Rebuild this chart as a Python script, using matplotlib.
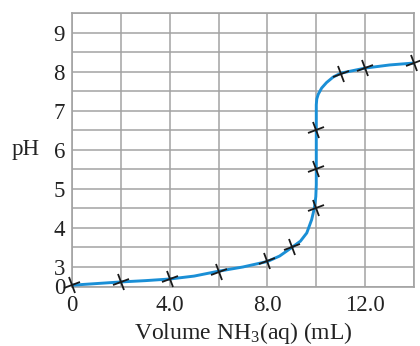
import numpy as np
import matplotlib
matplotlib.use("Agg")
import matplotlib.pyplot as plt
from matplotlib.markers import MarkerStyle
from matplotlib.transforms import Affine2D
import matplotlib.transforms as mtransforms

plt.rcParams['font.family'] = ['Liberation Serif', 'DejaVu Serif']
plt.rcParams['mathtext.fontset'] = 'custom'
plt.rcParams['mathtext.rm'] = 'Liberation Serif'
plt.rcParams['mathtext.it'] = 'Liberation Serif:italic'

# Curve (volume mL, pH)
curve_volume = [0, 1, 2, 3, 4, 5, 6, 7, 8, 8.5, 9, 9.35, 9.61, 9.81, 9.92, 9.98, 10.0,
                10.0, 10.0, 10.02, 10.08, 10.22, 10.42, 10.69, 11, 12, 13, 14]
curve_ph = [0.2, 0.45, 0.7, 0.9, 1.15, 1.6, 2.35, 3.0, 3.14, 3.28, 3.5, 3.66, 3.87, 4.21,
            4.5, 4.8, 5.1, 6.5, 7.15, 7.3, 7.42, 7.58, 7.72, 7.86, 7.96, 8.09, 8.17, 8.22]

# Measured points (crosses)
point_volume = [0, 2, 4, 6, 8, 9, 10, 10, 10, 11, 12, 14]
point_ph = [0.2, 0.7, 1.1, 2.3, 3.14, 3.5, 4.5, 5.5, 6.5, 7.95, 8.1, 8.22]

x_ticks = [0, 4, 8, 12]
x_tick_labels = ["0", "4.0", "8.0", "12.0"]
y_ticks = [0, 3, 4, 5, 6, 7, 8, 9]
y_tick_labels = ["0", "3", "4", "5", "6", "7", "8", "9"]


def fwd(v):
    v = np.asarray(v, dtype=float)
    return np.where(v < 3, 2.5 + v / 6.0, v)


def inv(d):
    d = np.asarray(d, dtype=float)
    return np.where(d < 3, (d - 2.5) * 6.0, d)


fig = plt.figure(figsize=(4.2, 3.46), dpi=100)
ax = fig.add_axes([72 / 420, 1 - 286.5 / 346, 342 / 420, 273.5 / 346])
ax.set_yscale('function', functions=(fwd, inv))
ax.set_xlim(0, 14)
ax.set_ylim(0, 9.5)

grid_c = '#a3a3a3'
txt_c = '#222222'
fs = 16.5
ax.set_xticks(x_ticks)
ax.set_xticklabels(x_tick_labels)
ax.set_xticks([2, 6, 10, 14], minor=True)
ax.set_yticks(y_ticks)
ax.set_yticklabels(y_tick_labels)
ax.set_yticks([3.5, 4.5, 5.5, 6.5, 7.5, 8.5, 9.5], minor=True)
ax.grid(True, which='both', color=grid_c, linewidth=1.1)
ax.set_axisbelow(True)
for s in ax.spines.values():
    s.set_color(grid_c)
    s.set_linewidth(1.2)
ax.tick_params(which='both', length=0)
ax.tick_params(axis='x', pad=6, labelsize=fs, colors=txt_c)
ax.tick_params(axis='y', pad=5, labelsize=fs, colors=txt_c)

ax.plot(curve_volume, curve_ph, color='#1a8fd6', linewidth=2.1, solid_capstyle='round',
        solid_joinstyle='round', zorder=3)
mk = MarkerStyle('+', transform=Affine2D().rotate_deg(18))
ax.plot(point_volume, point_ph, linestyle='none', marker=mk, markersize=12.5,
        markeredgewidth=1.3, color='#1a1a1a', zorder=4, clip_on=False)

ax.set_xlabel('Volume NH$_3$(aq) (mL)', fontsize=17, color=txt_c, labelpad=3)
trans = mtransforms.blended_transform_factory(ax.transAxes, ax.transData)
ax.text(-0.093, 6, 'pH', transform=trans, ha='right', va='center', fontsize=fs,
        color=txt_c)

fig.savefig('out.png', dpi=100)
